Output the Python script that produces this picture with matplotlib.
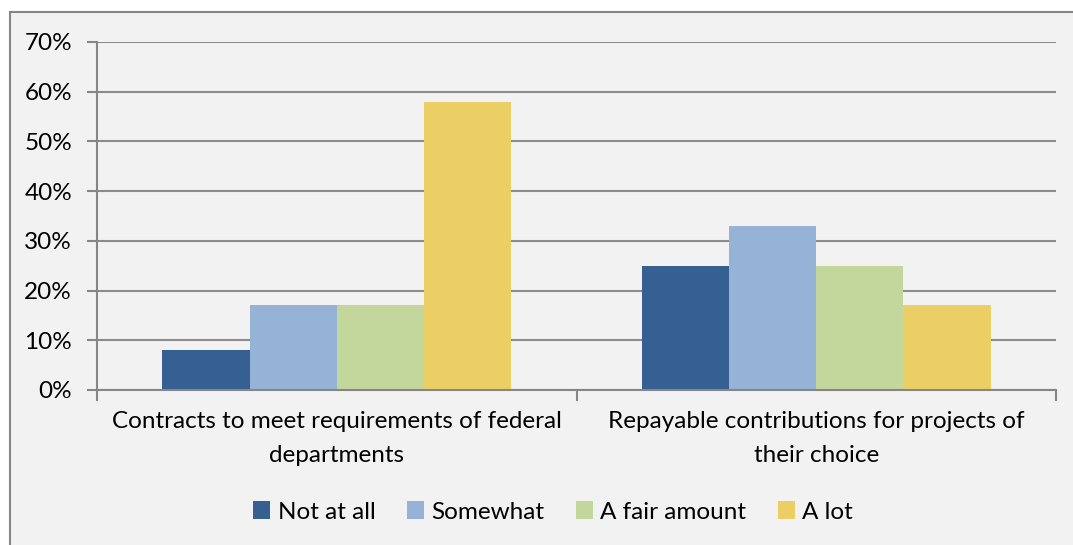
import matplotlib
matplotlib.use("Agg")
import matplotlib.pyplot as plt
from matplotlib.patches import Rectangle
import numpy as np

plt.rcParams['font.family'] = ['Lato', 'DejaVu Sans']

categories = ["Contracts to meet requirements of federal\ndepartments",
              "Repayable contributions for projects of\ntheir choice"]
series = ["Not at all", "Somewhat", "A fair amount", "A lot"]
values = {
    "Not at all": [8, 25],
    "Somewhat": [17, 33],
    "A fair amount": [17, 25],
    "A lot": [58, 17],
}
colors = ["#376092", "#95B3D7", "#C3D69B", "#EBCF64"]
yticks = [0, 10, 20, 30, 40, 50, 60, 70]

W, H = 1073, 545
fs = 17.5
fig = plt.figure(figsize=(W / 100, H / 100), dpi=100)
fig.patch.set_facecolor("white")

# chart area box (only top and left edges visible)
fig.patches.append(Rectangle((10 / W, -0.1), 1.2, 1 - 12 / H + 0.1,
                             transform=fig.transFigure, facecolor="#F2F2F2",
                             edgecolor="#868686", linewidth=1.5, zorder=-10))

ax = fig.add_axes([97 / W, 1 - 390 / H, (1056 - 97) / W, (390 - 42) / H])
ax.set_facecolor("#F2F2F2")

x = np.arange(len(categories))
bw = 1 / 5.5
for i, (s, c) in enumerate(zip(series, colors)):
    ax.bar(x + (i - 1.5) * bw, values[s], bw, color=c, label=s, zorder=3)

ax.set_xlim(-0.5, len(categories) - 0.5)
ax.set_ylim(0, 70)
ax.set_yticks(yticks)
ax.set_yticklabels([f"{v}%" for v in yticks], fontsize=fs)
ax.yaxis.grid(True, color="#8C8C8C", linewidth=1.5, zorder=0)
ax.set_xticks([-0.5, 0.5, 1.5])
ax.set_xticklabels([])
ax.set_xticks(x, minor=True)
ax.set_xticklabels(categories, minor=True, fontsize=fs, linespacing=1.75)
ax.tick_params(axis="x", which="minor", length=0, pad=15)
ax.tick_params(axis="x", which="major", length=8, width=1.5, color="#868686")
ax.tick_params(axis="y", length=7, width=1.5, color="#868686", pad=11)

for side in ["top", "right"]:
    ax.spines[side].set_visible(False)
ax.spines["left"].set_color("#868686")
ax.spines["left"].set_linewidth(1.5)
ax.spines["bottom"].set_color("#868686")
ax.spines["bottom"].set_linewidth(1.5)
ax.spines["bottom"].set_zorder(4)

fig.legend(loc="center", bbox_to_anchor=(553 / W, 1 - 512 / H), ncol=4,
           frameon=False, fontsize=fs, handlelength=0.7, handleheight=0.7,
           handletextpad=0.3, columnspacing=1.3)

fig.savefig("out.png", dpi=100)
